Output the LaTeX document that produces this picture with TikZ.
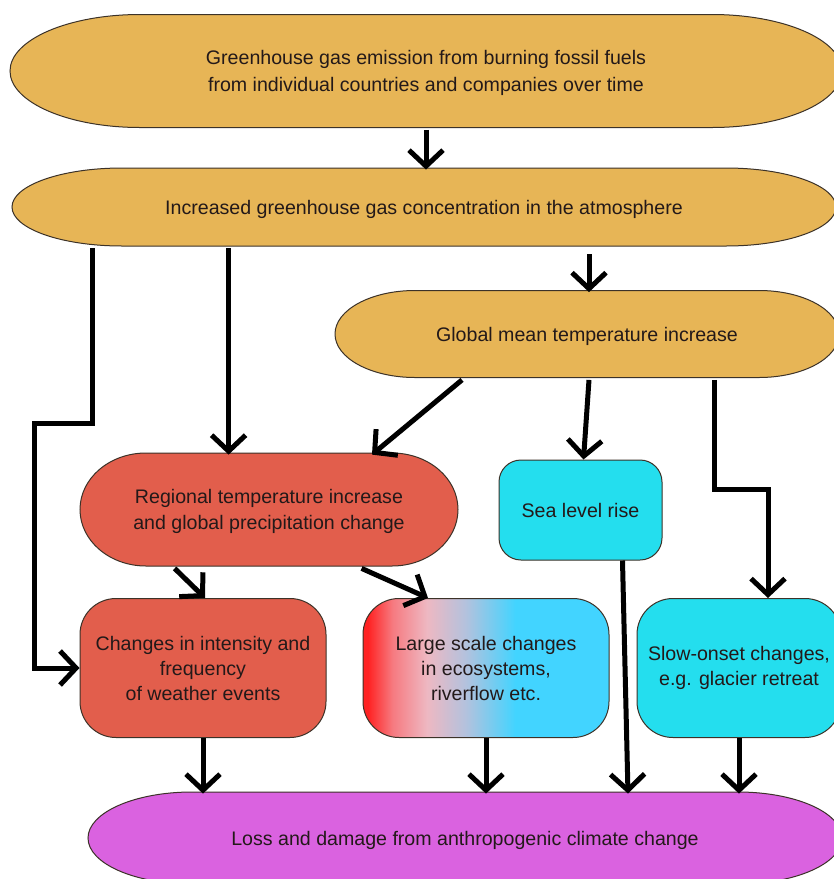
\documentclass[tikz,border=0pt]{standalone}
\usepackage{fontspec}
\setmainfont{Liberation Sans}
\usetikzlibrary{calc,arrows.meta,positioning}
\definecolor{podorange}{RGB}{231,181,86}
\definecolor{boxred}{RGB}{226,94,76}
\definecolor{seacyan}{RGB}{36,222,238}
\definecolor{lossmagenta}{RGB}{218,98,224}
\definecolor{gradred}{RGB}{255,34,34}
\definecolor{gradsalmon}{RGB}{246,122,128}
\definecolor{gradpink}{RGB}{238,184,194}
\definecolor{gradgrey}{RGB}{178,194,222}
\definecolor{gradblue}{RGB}{66,212,255}
\definecolor{inkline}{RGB}{60,50,40}
\definecolor{textink}{RGB}{35,25,25}
\pgfdeclarehorizontalshading{ecofade}{100bp}{color(0bp)=(gradred); color(26bp)=(gradred); color(31bp)=(gradsalmon); color(38bp)=(gradpink); color(46bp)=(gradgrey); color(56bp)=(gradblue); color(100bp)=(gradblue)}
\tikzset{
  lbl/.style={inner sep=0pt, align=center, text=textink,
    font=\fontsize{9.8pt}{12.5pt}\selectfont},
  box/.style={lbl, draw=inkline, line width=0.5pt, minimum height=69.5pt},
  arr/.style={line width=2.5pt, -{Straight Barb[length=8pt,width=17pt]}}
}
% name, centre, half width, half height, x radius, y radius, colour, text
\newcommand\podshape[8]{%
  \filldraw[fill=#7, draw=inkline, line width=0.5pt, shift={(#2)}]
    (#5pt-#3pt,#4pt) -- (#3pt-#5pt,#4pt)
    arc[start angle=90,end angle=0,x radius=#5pt,y radius=#6pt]
    -- (#3pt,#6pt-#4pt)
    arc[start angle=0,end angle=-90,x radius=#5pt,y radius=#6pt]
    -- (#5pt-#3pt,-#4pt)
    arc[start angle=270,end angle=180,x radius=#5pt,y radius=#6pt]
    -- (-#3pt,#4pt-#6pt)
    arc[start angle=180,end angle=90,x radius=#5pt,y radius=#6pt]
    -- cycle;
  \node[lbl, yshift=-1pt, minimum width={2*#3pt}, minimum height={2*#4pt}] (#1) at (#2) {#8};}

\begin{document}
\begin{tikzpicture}[x=0.5pt,y=-0.5pt]
\clip (0,0) rectangle (834,879);
\fill[white] (0,0) rectangle (834,879);
\podshape{emis}{426,71}{208}{28.25}{65}{28.25}{podorange}{Greenhouse gas emission from burning fossil fuels\\[0.8pt]from individual countries and companies over time}
\podshape{conc}{424,207}{206}{19.5}{55}{19.5}{podorange}{Increased greenhouse gas concentration in the atmosphere}
\podshape{glob}{587,334}{126}{21.75}{40}{21.75}{podorange}{Global mean temperature increase}
\podshape{reg}{269,509.5}{94.5}{28.25}{33}{28.25}{boxred}{Regional temperature increase\\[0.5pt]and global precipitation change}
\podshape{loss}{465,838}{188.5}{23}{52}{23}{lossmagenta}{Loss and damage from anthropogenic climate change}

\node[box, fill=seacyan, minimum width=81.5pt, minimum height=50pt, rounded corners=11pt] (sea) at (580.5,510) {Sea level rise};
\node[box, fill=boxred, minimum width=123pt, rounded corners=18pt] (wea) at (203,668) {Changes in intensity and\\frequency\\of weather events};
\node[box, shading=ecofade, minimum width=123pt, rounded corners=18pt] (lsc) at (486,668) {Large scale changes\\in ecosystems,\\riverflow etc.};
\node[box, fill=seacyan, minimum width=102pt, rounded corners=18pt] (slow) at (739,668) {Slow-onset changes,\\e.g. glacier retreat};

\draw[arr] (emis.south) -- (emis.south |- conc.north);
\draw[arr] ($(conc.south west)+(81,0)$) |- ($(wea.west)+(-45,-245)$) |- (wea.west);
\draw[arr] ($(conc.south west)+(217,0)$) -- ($(reg.north west)+(149,0)$);
\draw[arr] ($(conc.south)+(165,6)$) -- ($(glob.north)+(2,0)$);
\draw[arr] ($(glob.south)+(-125,0)$) -- ($(reg.north)+(103,0)$);
\draw[arr] ($(glob.south)+(2,0)$) -- ($(sea.north)+(3,0)$);
\draw[arr] ($(glob.south)+(127,0)$) -- ++(0,110) -| ($(slow.north)+(29,0)$);
\draw[arr] ($(reg.south west)+(95,0)$) -- ($(wea.north)+(2,0)$);
\draw[arr] ($(reg.south west)+(282,0)$) -- ($(lsc.north)+(-58,0)$);
\draw[arr] ($(sea.south)+(42,0)$) -- ($(loss.north)+(163,0)$);
\draw[arr] (wea.south) -- (wea.south |- loss.north);
\draw[arr] (lsc.south) -- (lsc.south |- loss.north);
\draw[arr] (slow.south) -- (slow.south |- loss.north);
\end{tikzpicture}
\end{document}
